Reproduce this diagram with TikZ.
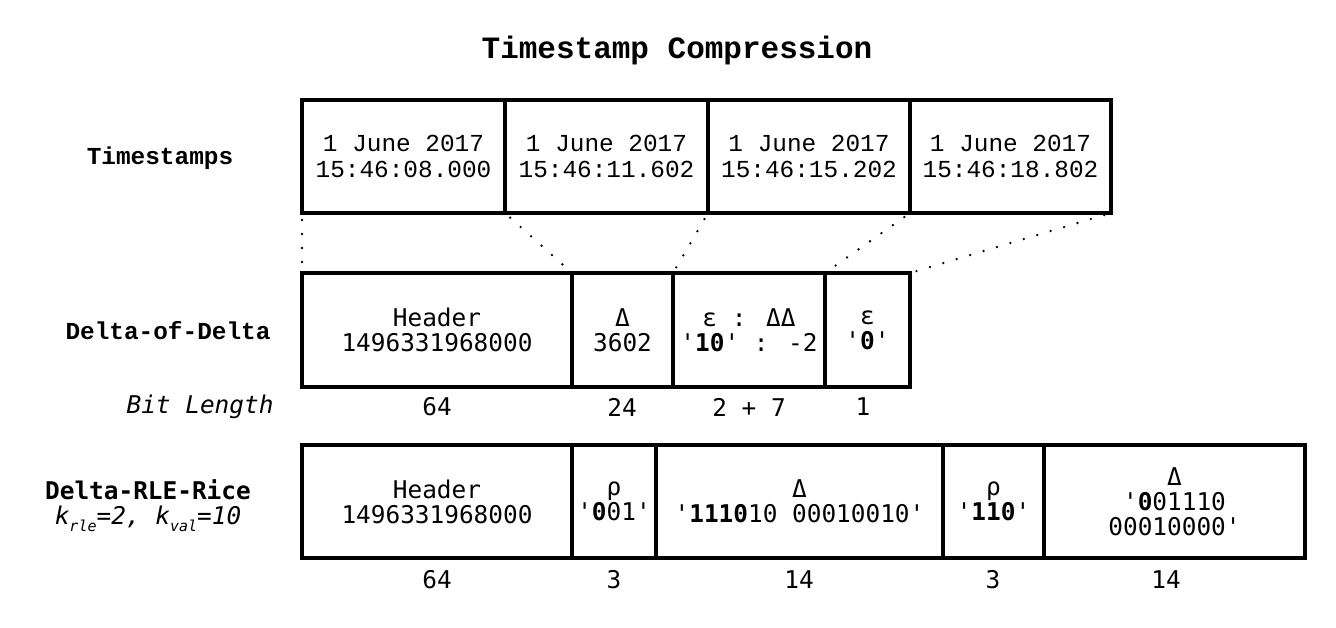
\documentclass[tikz,border=0pt]{standalone}
\usepackage{fontspec}
\setmainfont{DejaVu Sans Mono}
\newfontfamily\courfam{Liberation Mono}
\newfontfamily\dvmfam{DejaVu Sans Mono}
\newcommand{\subtxt}[1]{\raisebox{-0.3em}{\fontsize{15}{15}\selectfont #1}}
\begin{document}
\begin{tikzpicture}[x=1pt,y=-1pt,
  cell/.style={draw, line width=3.2pt, inner sep=0pt, outer sep=0pt, align=center,
    font=\dvmfam\fontsize{24.4}{25}\selectfont},
  tcell/.style={cell, font=\courfam\fontsize{24.4}{25.5}\selectfont, minimum height=113pt},
  dcell/.style={cell, minimum height=114pt},
  rcell/.style={cell, minimum height=113pt},
  lbl/.style={align=center, font=\courfam\bfseries\fontsize{24.4}{25}\selectfont},
  num/.style={font=\dvmfam\fontsize{24.4}{25}\selectfont},
  dotline/.style={line width=2.6pt, line cap=round, dash pattern=on 0pt off 14pt, dash phase=7pt}
]
\useasboundingbox (0,0) rectangle (1336,627);

\node[font=\courfam\bfseries\fontsize{31}{31}\selectfont] (title) at (677,50) {Timestamp Compression};

% labels
\node[lbl] (lts) at (160,158) {Timestamps};
\node[lbl] (ldd) at (168,331) {Delta-of-Delta};
\node[font=\dvmfam\itshape\fontsize{24.4}{25}\selectfont, anchor=east] (lbit) at (277,407) {Bit Length};
\node[align=center, font=\dvmfam\fontsize{24.4}{25}\selectfont] (lrr) at (148,506)
  {{\bfseries Delta-RLE-Rice}\\{\itshape k\subtxt{rle}=2, k\subtxt{val}=10}};

% timestamps row
\node[tcell, minimum width=203pt] (t1) at (403.5,156.5) {1 June 2017\\15:46:08.000};
\node[tcell, minimum width=203pt] (t2) at (606.5,156.5) {1 June 2017\\15:46:11.602};
\node[tcell, minimum width=202pt] (t3) at (809,156.5) {1 June 2017\\15:46:15.202};
\node[tcell, minimum width=201pt] (t4) at (1010.5,156.5) {1 June 2017\\15:46:18.802};

% delta-of-delta row
\node[dcell, minimum width=270pt] (d1) at (437,330) {Header\\1496331968000};
\node[dcell, minimum width=101pt] (d2) at (622.5,330) {Δ\\3602};
\node[dcell, minimum width=152pt] (d3) at (749,330) {ε : ΔΔ\\'{\bfseries 10}' : -2};
\node[dcell, minimum width=85pt] (d4) at (867.5,330) {ε\\'{\bfseries 0}'};

% dotted connectors
\draw[dotline] (t1.south west) -- (d1.north west);
\draw[dotline] (t2.south west) -- (d2.north west);
\draw[dotline] (t3.south west) -- (d3.north west);
\draw[dotline] (t4.south west) -- (d4.north west);
\draw[dotline] (t4.south east) -- (d4.north east);

% bit lengths
\node[num] (b1) at (437,407) {64};
\node[num] (b2) at (622,407) {24};
\node[num] (b3) at (749,407) {2 + 7};
\node[num] (b4) at (863,407) {1};

% delta-rle-rice row
\node[rcell, minimum width=270pt] (r1) at (437,501.5) {Header\\1496331968000};
\node[rcell, minimum width=84pt] (r2) at (614,501.5) {ρ\\'{\bfseries 0}01'};
\node[rcell, minimum width=287pt] (r3) at (799.5,501.5) {Δ\\'{\bfseries 1110}10 00010010'};
\node[rcell, minimum width=101pt] (r4) at (993.5,501.5) {ρ\\'{\bfseries 110}'};
\node[rcell, minimum width=261pt] (r5) at (1174.5,501.5) {Δ\\'{\bfseries 0}01110\\00010000'};

\node[num] (c1) at (437,580) {64};
\node[num] (c2) at (614,580) {3};
\node[num] (c3) at (799,580) {14};
\node[num] (c4) at (993,580) {3};
\node[num] (c5) at (1166,580) {14};
\end{tikzpicture}
\end{document}
